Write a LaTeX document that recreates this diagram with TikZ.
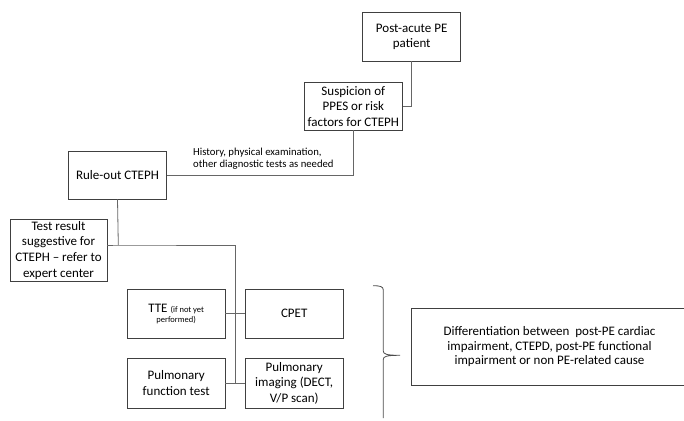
\documentclass[tikz,border=0pt]{standalone}
\usepackage{fontspec}
\setmainfont{Carlito}
\begin{document}
\begin{tikzpicture}[x=1pt,y=-1pt,
  box/.style={draw=black!75, line width=0.8pt, align=center, inner sep=1pt,
    font=\fontsize{13}{15.6}\selectfont},
  conn/.style={draw=black!60, line width=0.8pt},
  note/.style={align=left, inner sep=0pt, font=\fontsize{10.7}{12.3}\selectfont}]
\useasboundingbox (0,0) rectangle (684,420);
\clip (0,0) rectangle (684,420);
\node[box, minimum width=98pt, minimum height=48.7pt] (post) at (411.7,36.7) {Post-acute PE\\patient};
\node[box, minimum width=98.7pt, minimum height=47.7pt] (susp) at (353.3,106.2) {Suspicion of\\PPES or risk\\factors for CTEPH};
\node[box, minimum width=98.4pt, minimum height=48pt] (rule) at (117.5,175) {Rule-out CTEPH};
\node[box, minimum width=97pt, minimum height=62.7pt] (test) at (58.5,250.3) {Test result\\suggestive for\\CTEPH -- refer to\\expert center};
\node[box, minimum width=97.7pt, minimum height=49.3pt, font=\fontsize{13}{10}\selectfont] (tte) at (176.2,313.7) {TTE {\fontsize{8.5}{10}\selectfont(if not yet}\\{\fontsize{8.5}{10}\selectfont performed)}};
\node[box, minimum width=98.3pt, minimum height=49.3pt] (cpet) at (294.2,313.7) {CPET};
\node[box, minimum width=97.7pt, minimum height=50pt] (pft) at (176.2,383.3) {Pulmonary\\function test};
\node[box, minimum width=98.3pt, minimum height=50pt] (pimg) at (294.2,383.3) {Pulmonary\\imaging (DECT,\\V/P scan)};
\node[box, minimum width=275.6pt, minimum height=77.4pt, font=\fontsize{13}{14.5}\selectfont] (diff) at (549.5,347) {Differentiation between~ post-PE cardiac\\impairment, CTEPD, post-PE functional\\impairment or non PE-related cause};
\node[note, anchor=west] (hist) at (193,159) {History, physical examination,\\other diagnostic tests as needed};
\draw[conn] (post.south) |- (susp.east);
\draw[conn] (susp.south) |- (rule.east);
\coordinate (j1) at (118.3,245);
\coordinate (j2) at (235.5,245);
\coordinate (j3) at (235.5,383.3);
\draw[conn] (rule.south) -- (j1);
\draw[conn] (test.east |- j1) -- (j1) -- (j2) -- (j3);
\draw[conn] (tte.east) -- (cpet.west);
\draw[conn] (pft.east) -- (pimg.west);
\coordinate (bt) at (373,285.7);
\coordinate (bm) at (400,355.3);
\coordinate (bb) at (383.3,418);
\draw[conn, black!70] (bt) .. controls (380,285.7) and (383.3,286.5) .. (383.3,290)
  -- (383.3,351) .. controls (383.3,354) and (386,355.3) .. (bm)
  .. controls (386,355.3) and (383.3,356.5) .. (383.3,359.5) -- (bb);
\end{tikzpicture}
\end{document}
